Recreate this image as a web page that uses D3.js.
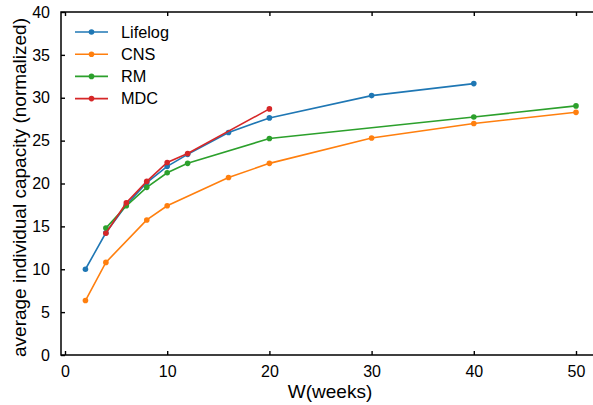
<!DOCTYPE html>
<html>
<head>
<meta charset="utf-8">
<script src="https://cdn.jsdelivr.net/npm/d3@7"></script>
<style>
  body { margin: 0; background: #fff; }
  text { font-family: "Liberation Sans", Arial, sans-serif; fill: #000; }
</style>
</head>
<body>
<div class="canvas"></div>
<script>
// data
const seriesNames = ["Lifelog", "CNS", "RM", "MDC"];
const colors = ["#1f77b4", "#ff7f0e", "#2ca02c", "#d62728"];

const lifelogW = [2, 4, 6, 8, 10, 12, 16, 20, 30, 40];
const lifelogY = [10.0, 14.25, 17.5, 20.1, 22.0, 23.4, 25.95, 27.65, 30.25, 31.65];

const cnsW = [2, 4, 8, 10, 16, 20, 30, 40, 50];
const cnsY = [6.35, 10.8, 15.75, 17.4, 20.7, 22.35, 25.3, 27.0, 28.3];

const rmW = [4, 6, 8, 10, 12, 20, 40, 50];
const rmY = [14.8, 17.4, 19.55, 21.25, 22.35, 25.25, 27.75, 29.05];

const mdcW = [4, 6, 8, 10, 12, 20];
const mdcY = [14.2, 17.75, 20.25, 22.45, 23.5, 28.7];

const xTicks = [0, 10, 20, 30, 40, 50];
const yTicks = [0, 5, 10, 15, 20, 25, 30, 35, 40];

const series = [
  { name: seriesNames[0], w: lifelogW, y: lifelogY },
  { name: seriesNames[1], w: cnsW, y: cnsY },
  { name: seriesNames[2], w: rmW, y: rmY },
  { name: seriesNames[3], w: mdcW, y: mdcY },
].map((s, i) => ({
  name: s.name,
  color: colors[i],
  points: s.w.map((w, j) => ({ w, v: s.y[j] })),
}));

const width = 593;
const height = 405;

const svg = d3
  .select(".canvas")
  .append("svg")
  .attr("width", width)
  .attr("height", height);

// scales
const x = d3.scaleLinear().domain([0, 50]).range([65, 576]);
const y = d3.scaleLinear().domain([0, 40]).range([355, 12]);

const frame = { left: 61, right: 602, top: y(40), bottom: y(0) };

// axes (ticks pointing inward)
const bottomAxis = svg
  .append("g")
  .attr("transform", `translate(0,${frame.bottom})`)
  .call(d3.axisBottom(x).tickValues(xTicks).tickSize(-4).tickPadding(10.5));

const topAxis = svg
  .append("g")
  .attr("transform", `translate(0,${frame.top})`)
  .call(d3.axisTop(x).tickValues(xTicks).tickSize(-4).tickFormat(""));

const leftAxis = svg
  .append("g")
  .attr("transform", `translate(${frame.left},0)`)
  .call(d3.axisLeft(y).tickValues(yTicks).tickSize(-4).tickPadding(11));

[bottomAxis, topAxis, leftAxis].forEach((g) => {
  g.select(".domain").remove();
  g.selectAll(".tick line").attr("stroke", "#000").attr("stroke-width", 1.4);
  g.selectAll("text").style("font-size", "16px").attr("fill", "#000");
});

// frame
svg
  .append("path")
  .attr("fill", "none")
  .attr("stroke", "#000")
  .attr("stroke-width", 1.5)
  .attr(
    "d",
    `M${frame.right},${frame.top}H${frame.left}V${frame.bottom}H${frame.right}`
  );

// lines
const line = d3
  .line()
  .x((d) => x(d.w))
  .y((d) => y(d.v));

const groups = svg
  .selectAll(".series")
  .data(series)
  .enter()
  .append("g")
  .attr("class", "series");

groups
  .append("path")
  .attr("fill", "none")
  .attr("stroke", (d) => d.color)
  .attr("stroke-width", 1.6)
  .attr("d", (d) => line(d.points));

groups
  .selectAll("circle")
  .data((d) => d.points.map((p) => ({ ...p, color: d.color })))
  .enter()
  .append("circle")
  .attr("cx", (d) => x(d.w))
  .attr("cy", (d) => y(d.v))
  .attr("r", 2.8)
  .attr("fill", (d) => d.color);

// legend
const legend = svg
  .append("g")
  .selectAll("g")
  .data(series)
  .enter()
  .append("g")
  .attr("transform", (d, i) => `translate(75,${32 + i * 22.2})`);

legend
  .append("line")
  .attr("x1", 0)
  .attr("x2", 33)
  .attr("stroke", (d) => d.color)
  .attr("stroke-width", 1.6);

legend
  .append("circle")
  .attr("cx", 16.5)
  .attr("r", 2.8)
  .attr("fill", (d) => d.color);

legend
  .append("text")
  .attr("x", 46)
  .attr("dy", "0.36em")
  .style("font-size", "16.3px")
  .text((d) => d.name);

// axis labels
svg
  .append("text")
  .attr("x", 330)
  .attr("y", 398)
  .attr("text-anchor", "middle")
  .style("font-size", "19px")
  .text("W(weeks)");

svg
  .append("text")
  .attr("transform", `translate(26,${(frame.top + frame.bottom) / 2 + 4}) rotate(-90)`)
  .attr("text-anchor", "middle")
  .style("font-size", "19px")
  .text("average individual capacity (normalized)");
</script>
</body>
</html>
